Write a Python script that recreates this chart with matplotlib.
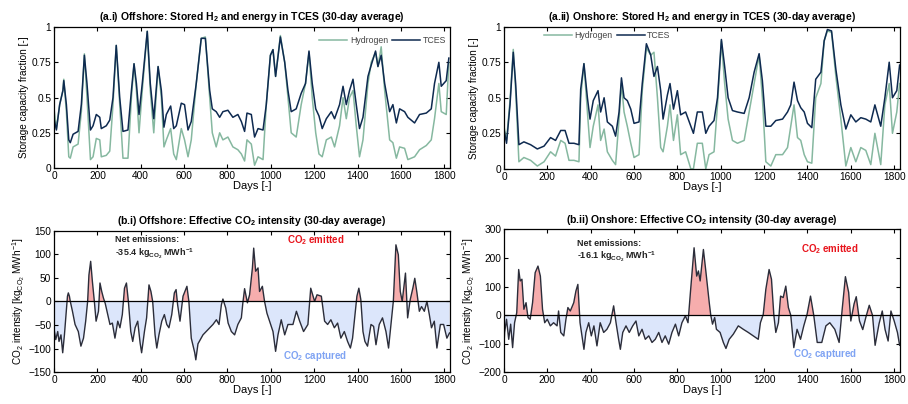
import numpy as np
import matplotlib.pyplot as plt

plt.rcParams['font.family'] = ['Liberation Sans', 'DejaVu Sans']
plt.rcParams['mathtext.fontset'] = 'custom'
plt.rcParams['mathtext.rm'] = 'Liberation Sans'
plt.rcParams['mathtext.bf'] = 'Liberation Sans:bold'
plt.rcParams['mathtext.it'] = 'Liberation Sans:italic'

# (a.i) offshore storage fractions
off_days = [0, 11, 26, 41, 45, 57, 68, 75, 88, 111, 126, 140, 152, 168, 180, 195, 211, 218, 241, 257,
            272, 287, 303, 318, 341, 357, 369, 380, 392, 407, 430, 444, 460, 480, 495, 507, 518, 538,
            552, 564, 587, 602, 618, 633, 656, 679, 698, 718, 730, 748, 764, 779, 802, 825, 848, 864,
            879, 890, 910, 925, 941, 964, 979, 998, 1010, 1022, 1044, 1064, 1079, 1094, 1117, 1140,
            1160, 1176, 1191, 1207, 1222, 1237, 1256, 1279, 1294, 1317, 1333, 1348, 1363, 1379, 1394,
            1409, 1425, 1448, 1463, 1483, 1494, 1509, 1525, 1548, 1563, 1579, 1594, 1617, 1632, 1663,
            1686, 1717, 1740, 1755, 1775, 1786, 1809, 1821]
off_tces = [0.35, 0.27, 0.45, 0.55, 0.62, 0.45, 0.20, 0.18, 0.24, 0.26, 0.45, 0.80, 0.60, 0.27, 0.30,
            0.38, 0.36, 0.28, 0.30, 0.34, 0.50, 0.87, 0.50, 0.26, 0.27, 0.55, 0.74, 0.60, 0.38, 0.60,
            0.97, 0.60, 0.35, 0.72, 0.55, 0.29, 0.38, 0.44, 0.28, 0.30, 0.46, 0.45, 0.27, 0.33, 0.60,
            0.92, 0.92, 0.55, 0.42, 0.40, 0.36, 0.40, 0.41, 0.36, 0.38, 0.33, 0.26, 0.39, 0.38, 0.22,
            0.28, 0.27, 0.45, 0.80, 0.84, 0.65, 0.93, 0.75, 0.55, 0.40, 0.42, 0.53, 0.60, 0.83, 0.60,
            0.42, 0.37, 0.28, 0.35, 0.40, 0.35, 0.45, 0.58, 0.45, 0.55, 0.63, 0.45, 0.28, 0.36, 0.65,
            0.73, 0.83, 0.72, 0.80, 0.60, 0.40, 0.45, 0.32, 0.42, 0.40, 0.36, 0.32, 0.38, 0.39, 0.42,
            0.60, 0.75, 0.58, 0.62, 0.78]
off_h2 = [0.42, 0.28, 0.45, 0.55, 0.63, 0.40, 0.08, 0.07, 0.15, 0.17, 0.40, 0.81, 0.50, 0.06, 0.08,
          0.21, 0.20, 0.08, 0.09, 0.12, 0.45, 0.87, 0.45, 0.07, 0.07, 0.50, 0.74, 0.55, 0.25, 0.55,
          0.97, 0.55, 0.25, 0.72, 0.50, 0.15, 0.20, 0.28, 0.10, 0.06, 0.28, 0.20, 0.08, 0.20, 0.60,
          0.92, 0.93, 0.50, 0.25, 0.15, 0.25, 0.20, 0.22, 0.15, 0.13, 0.10, 0.05, 0.20, 0.17, 0.02,
          0.08, 0.06, 0.45, 0.80, 0.84, 0.65, 0.94, 0.75, 0.50, 0.25, 0.22, 0.45, 0.60, 0.82, 0.50,
          0.25, 0.10, 0.08, 0.20, 0.22, 0.15, 0.30, 0.50, 0.35, 0.50, 0.55, 0.30, 0.08, 0.20, 0.60,
          0.75, 0.82, 0.72, 0.86, 0.55, 0.20, 0.18, 0.07, 0.15, 0.14, 0.06, 0.08, 0.13, 0.16, 0.20,
          0.35, 0.60, 0.40, 0.38, 0.75]

# (a.ii) onshore storage fractions
on_days = [0, 12, 28, 43, 54, 69, 92, 123, 154, 185, 215, 238, 262, 282, 300, 323, 346, 354, 369, 385,
           397, 412, 434, 446, 462, 477, 500, 515, 531, 542, 554, 569, 585, 600, 623, 638, 657, 677,
           692, 708, 723, 734, 754, 766, 782, 800, 815, 838, 862, 874, 892, 915, 931, 946, 969, 985,
           1003, 1018, 1034, 1054, 1077, 1108, 1131, 1154, 1177, 1192, 1208, 1231, 1254, 1285, 1308,
           1323, 1338, 1354, 1369, 1385, 1400, 1420, 1438, 1462, 1477, 1492, 1511, 1531, 1554, 1577,
           1600, 1623, 1646, 1669, 1692, 1711, 1738, 1757, 1777, 1792, 1812, 1825]
on_tces = [0.28, 0.18, 0.45, 0.82, 0.60, 0.17, 0.19, 0.17, 0.14, 0.16, 0.22, 0.20, 0.27, 0.27, 0.18,
           0.18, 0.17, 0.56, 0.74, 0.50, 0.35, 0.48, 0.55, 0.40, 0.50, 0.33, 0.30, 0.23, 0.40, 0.64,
           0.50, 0.48, 0.42, 0.32, 0.33, 0.60, 0.88, 0.80, 0.65, 0.72, 0.55, 0.35, 0.52, 0.60, 0.42,
           0.55, 0.38, 0.40, 0.30, 0.25, 0.40, 0.40, 0.25, 0.30, 0.34, 0.50, 0.91, 0.72, 0.50, 0.41,
           0.40, 0.39, 0.50, 0.68, 0.81, 0.62, 0.30, 0.30, 0.34, 0.35, 0.40, 0.45, 0.61, 0.48, 0.43,
           0.40, 0.32, 0.29, 0.63, 0.68, 0.90, 0.98, 0.97, 0.70, 0.45, 0.28, 0.38, 0.33, 0.36, 0.35,
           0.33, 0.45, 0.30, 0.50, 0.75, 0.50, 0.55, 0.73]
on_h2 = [0.30, 0.20, 0.48, 0.84, 0.55, 0.05, 0.08, 0.06, 0.02, 0.05, 0.12, 0.09, 0.20, 0.18, 0.06,
         0.06, 0.05, 0.50, 0.74, 0.40, 0.15, 0.30, 0.45, 0.20, 0.28, 0.12, 0.06, 0.03, 0.35, 0.60,
         0.40, 0.30, 0.18, 0.08, 0.10, 0.55, 0.85, 0.80, 0.82, 0.50, 0.15, 0.12, 0.30, 0.45, 0.20,
         0.38, 0.10, 0.12, 0.00, 0.00, 0.18, 0.18, 0.00, 0.10, 0.12, 0.45, 0.90, 0.60, 0.35, 0.20,
         0.18, 0.20, 0.40, 0.60, 0.80, 0.50, 0.05, 0.02, 0.10, 0.10, 0.15, 0.30, 0.45, 0.22, 0.20,
         0.10, 0.05, 0.04, 0.50, 0.60, 0.90, 0.97, 0.96, 0.65, 0.35, 0.02, 0.15, 0.05, 0.15, 0.13,
         0.03, 0.25, 0.03, 0.45, 0.60, 0.25, 0.40, 0.60]

# (b.i) offshore effective CO2 intensity [kgCO2/MWh]
off_co2_days = [0, 2, 8, 17, 23, 32, 40, 48, 54, 62, 66, 71, 75, 85, 97, 112, 124, 136, 146, 155, 161,
                169, 177, 186, 194, 205, 212, 220, 228, 236, 248, 258, 269, 281, 294, 304, 315, 325,
                334, 343, 354, 363, 374, 386, 397, 404, 417, 427, 438, 447, 455, 466, 474, 484, 497,
                509, 520, 530, 543, 555, 563, 570, 581, 595, 613, 622, 633, 649, 654, 664, 687, 710,
                733, 749, 761, 772, 779, 792, 803, 818, 833, 848, 864, 871, 879, 892, 902, 915, 921,
                930, 941, 948, 961, 971, 982, 994, 1010, 1022, 1033, 1048, 1064, 1079, 1102, 1118,
                1133, 1151, 1171, 1184, 1202, 1213, 1233, 1248, 1262, 1277, 1293, 1308, 1323, 1339,
                1354, 1367, 1377, 1388, 1397, 1406, 1415, 1425, 1434, 1446, 1462, 1474, 1485, 1500,
                1515, 1531, 1543, 1554, 1565, 1577, 1588, 1597, 1606, 1621, 1631, 1643, 1655, 1664,
                1674, 1685, 1695, 1708, 1720, 1731, 1741, 1754, 1766, 1782, 1797, 1812, 1824]
off_co2 = [-60, -64, -81, -64, -85, -71, -109, -71, -35, 11, 18, 11, 0, -21, -49, -64, -95, -78, -42,
           0, 56, 85, 42, 0, -42, -21, 39, 21, 7, -4, -28, -49, -46, -78, -42, -56, -28, 28, 39, 0,
           -64, -85, -56, -42, -88, -109, -64, -35, 35, 21, 0, -71, -99, -71, -42, -28, -49, -56,
           -28, 18, 25, -7, -42, 11, 32, 0, -78, -109, -124, -90, -71, -60, -49, -39, -49, -7, 5,
           -14, -46, -64, -71, -49, -35, -3, 27, -3, 14, 71, 113, 64, 71, 21, 32, 0, -25, -42, -64,
           -106, -71, -39, -71, -49, -49, -21, -42, -64, -49, 28, 0, 14, 11, -42, -49, -39, -56, -46,
           -78, -64, -85, -99, -78, -28, 11, 28, 4, -64, -85, -95, -49, -53, -92, -49, -35, -64, -99,
           -49, 0, 120, 99, 21, 0, 60, -35, 4, 28, 49, 18, -21, -11, -21, 0, -28, -56, -42, -99,
           -49, -49, -78, -67]

# (b.ii) onshore effective CO2 intensity [kgCO2/MWh]
on_co2_days = [0, 3, 12, 22, 31, 40, 49, 59, 68, 75, 83, 92, 102, 111, 121, 132, 144, 157, 168, 178,
               188, 200, 214, 229, 245, 252, 262, 276, 286, 295, 306, 322, 332, 341, 351, 360, 369,
               378, 391, 403, 415, 429, 444, 460, 475, 491, 506, 517, 529, 537, 548, 563, 578, 594,
               609, 622, 637, 652, 668, 683, 698, 714, 729, 744, 760, 775, 791, 806, 821, 837, 849,
               860, 877, 889, 897, 905, 920, 932, 947, 954, 962, 972, 980, 997, 1012, 1024, 1039,
               1058, 1081, 1104, 1127, 1150, 1173, 1183, 1196, 1208, 1223, 1234, 1245, 1254, 1266,
               1276, 1288, 1300, 1312, 1323, 1337, 1352, 1368, 1383, 1398, 1414, 1429, 1445, 1466,
               1485, 1503, 1526, 1546, 1560, 1575, 1590, 1600, 1615, 1625, 1640, 1655, 1670, 1685,
               1700, 1712, 1730, 1745, 1758, 1772, 1785, 1800, 1815, 1825]
on_co2 = [-110, -60, -14, -84, -31, -113, -26, 9, 160, 120, 126, 21, 44, -8, -14, 44, 149, 172, 137,
          21, -26, -14, -37, -26, -37, 15, -60, -72, -14, 27, 15, 44, 85, 108, -26, -72, -119, -60,
          -26, -72, -37, -107, -26, -60, -49, -26, 33, -26, -84, -119, -60, -37, -60, -37, -20, -72,
          -49, -84, -72, -95, -84, -60, -95, -72, -101, -60, -31, -72, -26, -2, -26, 79, 236, 137,
          155, 120, 230, 149, 44, 0, -31, -8, -49, -60, -95, -116, -84, -66, -37, -49, -60, -72,
          -84, -26, 3, 91, 160, 126, 0, -60, -26, 67, 62, 102, 27, 0, -113, -49, -84, -37, 3, 67,
          0, -95, -95, -37, -26, -49, -95, 20, 135, 80, -20, 40, 65, -20, -50, -5, 35, 0, -105,
          -30, 15, -50, -90, 15, -20, -60, -105]

h2_col = '#86b8a0'
tces_col = '#0e2a50'
pos_fill = '#f6adad'
neg_fill = '#dce6fb'
line_col = '#2b2d3a'

fig = plt.figure(figsize=(9.08, 4.04), dpi=100)
ax1 = fig.add_axes([0.0595, 0.584, 0.436, 0.349])
ax2 = fig.add_axes([0.555, 0.582, 0.436, 0.352])
ax3 = fig.add_axes([0.0595, 0.079, 0.436, 0.350])
ax4 = fig.add_axes([0.555, 0.078, 0.436, 0.354])


def style(ax):
    ax.set_xlim(0, 1826)
    ax.set_xticks(np.arange(0, 1801, 200))
    ax.tick_params(direction='in', top=True, right=True, labelsize=7.3, length=3, width=0.8, pad=2)
    for s in ax.spines.values():
        s.set_linewidth(0.9)
    ax.set_xlabel('Days [-]', fontsize=8, labelpad=0)


for ax, d, h2, tc, title, loc in [
        (ax1, off_days, off_h2, off_tces, r'(a.i) Offshore: Stored H$_\mathbf{2}$ and energy in TCES (30-day average)',
         (0.67, 0.905)),
        (ax2, on_days, on_h2, on_tces, r'(a.ii) Onshore: Stored H$_\mathbf{2}$ and energy in TCES (30-day average)',
         (0.10, 0.94))]:
    ax.plot(d, h2, color=h2_col, lw=1.1, label='Hydrogen')
    ax.plot(d, tc, color=tces_col, lw=1.1, label='TCES')
    style(ax)
    ax.set_ylim(0, 1)
    ax.set_yticks([0, 0.25, 0.5, 0.75, 1])
    ax.set_yticklabels(['0', '0.25', '0.5', '0.75', '1'])
    ax.set_ylabel('Storage capacity fraction [-]', fontsize=7.2, labelpad=2)
    ax.set_title(title, fontsize=7.5, fontweight='bold', pad=5)
    ax.legend(loc='center left', bbox_to_anchor=loc, ncol=2, frameon=False, fontsize=6.3,
              handlelength=3.2, columnspacing=0.5, handletextpad=0.3, borderaxespad=0,
              borderpad=0, labelcolor='#444444')

for ax, d, v, title, lim, ticks, net, npos, epos, cpos in [
        (ax3, off_co2_days, off_co2, r'(b.i) Offshore: Effective CO$_\mathbf{2}$ intensity (30-day average)',
         (-150, 150), np.arange(-150, 151, 50), '-35.4', (0.154, 0.94, 0.835), (0.66, 0.93), (0.66, 0.115)),
        (ax4, on_co2_days, on_co2, r'(b.ii) Onshore: Effective CO$_\mathbf{2}$ intensity (30-day average)',
         (-200, 300), np.arange(-200, 301, 100), '-16.1', (0.184, 0.905, 0.81), (0.823, 0.86), (0.81, 0.13))]:
    d = np.array(d)
    v = np.array(v, dtype=float)
    ax.fill_between(d, v, 0, where=v >= 0, interpolate=True, color=pos_fill, lw=0)
    ax.fill_between(d, v, 0, where=v <= 0, interpolate=True, color=neg_fill, lw=0)
    ax.plot(d, v, color=line_col, lw=1.0)
    ax.axhline(0, color='black', lw=0.9)
    style(ax)
    ax.set_ylim(*lim)
    ax.set_yticks(ticks)
    ax.set_ylabel(r'CO$_2$ intensity [kg$_{\mathrm{CO_2}}$ MWh$^{\mathrm{-1}}$]', fontsize=7.2, labelpad=1)
    ax.set_title(title, fontsize=7.5, fontweight='bold', pad=5)
    ax.text(npos[0], npos[1], 'Net emissions:', transform=ax.transAxes, fontsize=6.5, fontweight='bold',
            va='center', color='#222222')
    ax.text(npos[0], npos[2], net + r' kg$_\mathbf{CO_2}$ MWh$^\mathbf{-1}$', transform=ax.transAxes,
            fontsize=6.5, fontweight='bold', va='center', color='#222222')
    ax.text(epos[0], epos[1], r'CO$_\mathbf{2}$ emitted', transform=ax.transAxes, fontsize=7,
            fontweight='bold', color='#e8141c', va='center', ha='center')
    ax.text(cpos[0], cpos[1], r'CO$_\mathbf{2}$ captured', transform=ax.transAxes, fontsize=7,
            fontweight='bold', color='#7fa3f3', va='center', ha='center')

plt.savefig('out.png', dpi=100)
